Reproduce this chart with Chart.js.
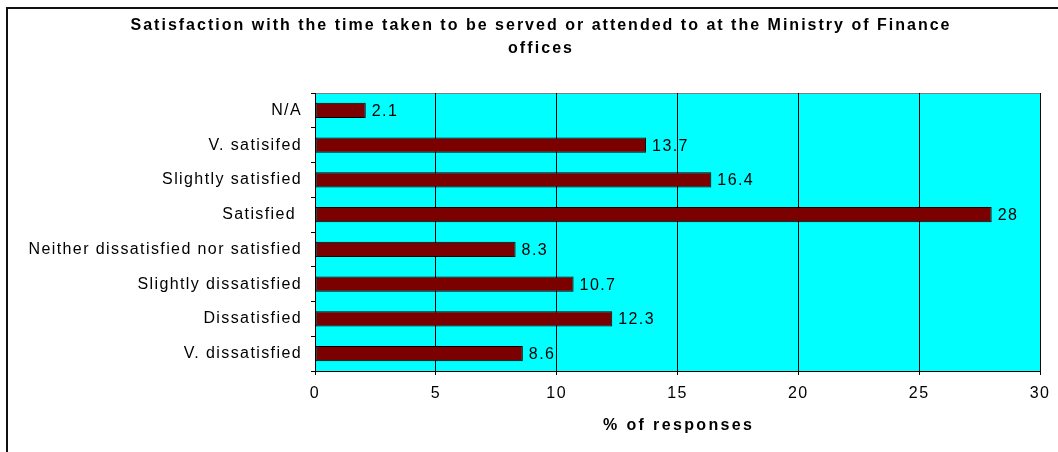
<!DOCTYPE html>
<html>
<head>
<meta charset="utf-8">
<script src="https://cdn.jsdelivr.net/npm/chart.js@4"></script>
<style>
  body { margin: 0; background: #fff; }
  canvas { display: block; }
</style>
</head>
<body>
<canvas id="myBarChart" width="1058" height="452"></canvas>
<script>
const categories = [
    'N/A',
    'V. satisifed',
    'Slightly satisfied',
    'Satisfied ',
    'Neither dissatisfied nor satisfied',
    'Slightly dissatisfied',
    'Dissatisfied',
    'V. dissatisfied'
];
const responses = [2.1, 13.7, 16.4, 28, 8.3, 10.7, 12.3, 8.6];
const titleLines = [
    'Satisfaction with the time taken to be served or attended to at the Ministry of Finance',
    'offices'
];
const axisTitle = '% of responses';

const FONT = '"Liberation Sans", Arial, sans-serif';
const SPACING = '1.4px';

// the old export stretches bold text, so spread letters to a given width
function spacedText(ctx, text, cx, y, width) {
    ctx.letterSpacing = '0px';
    const w = ctx.measureText(text).width;
    const spacing = Math.max(0, (width - w) / Math.max(1, text.length - 1));
    ctx.letterSpacing = spacing + 'px';
    ctx.textAlign = 'left';
    ctx.textBaseline = 'middle';
    ctx.fillText(text, cx - width / 2, y);
}

const decorPlugin = {
    id: 'decor',
    beforeLayout(chart) {
        chart.ctx.letterSpacing = SPACING;
    },
    beforeDraw(chart) {
        const ctx = chart.ctx;
        const a = chart.chartArea;
        ctx.letterSpacing = SPACING;
        ctx.save();
        ctx.fillStyle = '#00FFFF';
        ctx.fillRect(a.left, a.top, a.right - a.left, a.bottom - a.top);
        ctx.strokeStyle = '#808080';
        ctx.lineWidth = 1;
        ctx.strokeRect(a.left + 0.5, a.top + 0.5, a.right - a.left, a.bottom - a.top);
        ctx.restore();
    },
    afterDraw(chart) {
        const ctx = chart.ctx;
        const a = chart.chartArea;
        ctx.save();
        // outer frame
        ctx.fillStyle = '#111';
        ctx.fillRect(6, 7, 2, 445);
        ctx.fillRect(6, 7, 1052, 2);

        // title
        ctx.fillStyle = '#000';
        ctx.font = 'bold 16px ' + FONT;
        spacedText(ctx, titleLines[0], 540, 26, 819);
        spacedText(ctx, titleLines[1], 540, 49, 64);

        // axis title
        spacedText(ctx, axisTitle, (a.left + a.right) / 2, 426, 149);

        // value labels
        ctx.letterSpacing = SPACING;
        ctx.font = '16px ' + FONT;
        ctx.textAlign = 'left';
        ctx.textBaseline = 'middle';
        const meta = chart.getDatasetMeta(0);
        meta.data.forEach((bar, i) => {
            ctx.fillText(String(responses[i]), bar.x + 6, bar.y + 1);
        });
        ctx.restore();
    }
};

const canvas = document.getElementById('myBarChart');
const ctx = canvas.getContext('2d');

const myBarChart = new Chart(ctx, {
    type: 'bar',
    data: {
        labels: categories,
        datasets: [{
            label: axisTitle,
            data: responses,
            backgroundColor: '#7B0000',
            borderColor: '#000',
            borderWidth: 1,
            borderSkipped: false,
            barPercentage: 0.44,
            categoryPercentage: 1
        }]
    },
    options: {
        indexAxis: 'y',
        responsive: false,
        animation: false,
        layout: { padding: { left: 0, top: 93, right: 18, bottom: 0 } },
        plugins: {
            legend: { display: false },
            title: { display: false },
            tooltip: { enabled: false }
        },
        scales: {
            x: {
                min: 0,
                max: 30,
                ticks: {
                    stepSize: 5,
                    color: '#000',
                    padding: 9,
                    font: { family: FONT, size: 16 }
                },
                grid: {
                    color: '#000',
                    lineWidth: 1,
                    tickLength: 4,
                    drawOnChartArea: true
                },
                border: { color: '#000', width: 1 },
                afterFit(scale) {
                    scale.height = 81;
                    scale.paddingLeft = 0;
                    scale.paddingRight = 0;
                }
            },
            y: {
                offset: true,
                ticks: {
                    color: '#000',
                    padding: 9,
                    font: { family: FONT, size: 16 }
                },
                grid: {
                    offset: true,
                    drawOnChartArea: false,
                    color: '#000',
                    tickLength: 4
                },
                border: { color: '#000', width: 1 },
                afterFit(scale) { scale.width = 315; }
            }
        }
    },
    plugins: [decorPlugin]
});
</script>
</body>
</html>
